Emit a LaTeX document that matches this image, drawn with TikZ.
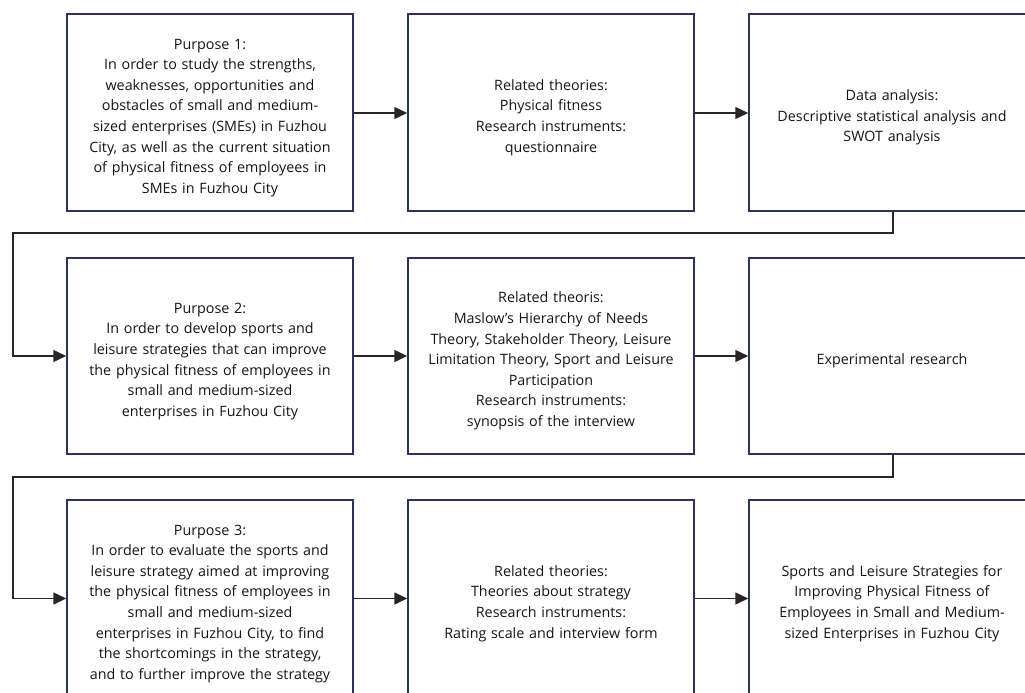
\documentclass[tikz,border=0pt]{standalone}
\usepackage{fontspec}
\setmainfont{Open Sans}
\usetikzlibrary{arrows.meta}
\definecolor{boxline}{HTML}{2B3160}
\definecolor{txt}{HTML}{141414}
\tikzset{
  box/.style={draw=boxline, line width=1.5pt, minimum width=286pt, minimum height=197pt, inner sep=0pt,
    text width=284pt, align=center, text=txt, font=\fontsize{14.3pt}{20.6pt}\selectfont,
    execute at begin node={\rule{0pt}{21pt}}},
  conn/.style={draw=black!85, line width=1.5pt, -{Triangle[length=13pt,width=12pt]}}
}
\begin{document}
\begin{tikzpicture}[x=1pt,y=-1pt]
\useasboundingbox (0,0) rectangle (1025,693);
\clip (0,0) rectangle (1025,693);
\node[box] (p1) at (210,112.5) {Purpose 1:\\In order to study the strengths,\\weaknesses, opportunities and\\obstacles of small and medium-\\sized enterprises (SMEs) in Fuzhou\\City, as well as the current situation\\of physical fitness of employees in\\SMEs in Fuzhou City};
\node[box] (t1) at (551,112.5) {Related theories:\\Physical fitness\\Research instruments:\\questionnaire};
\node[box] (d1) at (892,112.5) {Data analysis:\\Descriptive statistical analysis and\\SWOT analysis};
\node[box, minimum height=196pt] (p2) at (210,356) {Purpose 2:\\In order to develop sports and\\leisure strategies that can improve\\the physical fitness of employees in\\small and medium-sized\\enterprises in Fuzhou City};
\node[box, minimum height=196pt] (t2) at (551,356) {Related theoris:\\Maslow's Hierarchy of Needs\\Theory, Stakeholder Theory, Leisure\\Limitation Theory, Sport and Leisure\\Participation\\Research instruments:\\synopsis of the interview};
\node[box, minimum height=196pt] (d2) at (892,356) {Experimental research};
\node[box] (p3) at (210,598.5) {Purpose 3:\\In order to evaluate the sports and\\leisure strategy aimed at improving\\the physical fitness of employees in\\small and medium-sized\\enterprises in Fuzhou City, to find\\the shortcomings in the strategy,\\and to further improve the strategy};
\node[box] (t3) at (551,598.5) {Related theories:\\Theories about strategy\\Research instruments:\\Rating scale and interview form};
\node[box] (d3) at (892,598.5) {Sports and Leisure Strategies for\\Improving Physical Fitness of\\Employees in Small and Medium-\\sized Enterprises in Fuzhou City};
\coordinate (c1) at (893,233);
\coordinate (c2) at (13,233);
\coordinate (c3) at (893,477);
\coordinate (c4) at (13,477);
\draw[conn] (p1.east |- 0,113) -- (t1.west |- 0,113);
\draw[conn] (t1.east |- 0,113) -- (d1.west |- 0,113);
\draw[conn] (p2) -- (t2);
\draw[conn] (t2) -- (d2);
\draw[conn] (p3) -- (t3);
\draw[conn] (t3) -- (d3);
\draw[conn] (d1.south -| c1) -- (c1) -- (c2) |- (p2.west);
\draw[conn] (d2.south -| c3) -- (c3) -- (c4) |- (p3.west);
\end{tikzpicture}
\end{document}
